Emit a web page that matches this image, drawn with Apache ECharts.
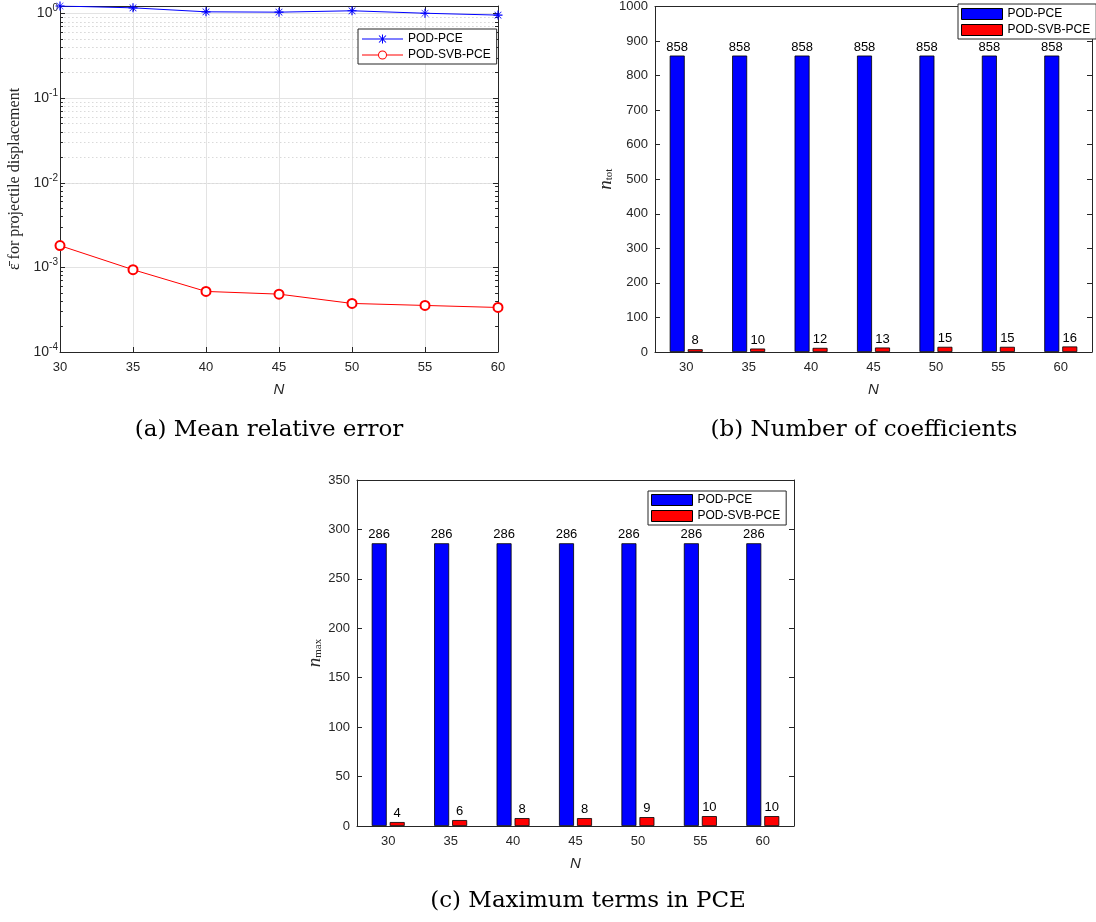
<!DOCTYPE html>
<html><head><meta charset="utf-8">
<script src="https://cdn.jsdelivr.net/npm/echarts@6/dist/echarts.min.js"></script>
<style>html,body{margin:0;padding:0;background:#fff}#c{width:1096px;height:922px}</style>
</head><body><div id="c"></div><script>
// ---------- data ----------
const N = [30, 35, 40, 45, 50, 55, 60];
const categories = ['30', '35', '40', '45', '50', '55', '60'];
const seriesNames = ['POD-PCE', 'POD-SVB-PCE'];
// (a) mean relative error
const errPodPce = [1.23, 1.17, 1.05, 1.04, 1.08, 1.01, 0.96];
const errPodSvbPce = [1.81e-3, 9.4e-4, 5.2e-4, 4.83e-4, 3.75e-4, 3.55e-4, 3.36e-4];
// (b) number of coefficients
const nTotPodPce = [858, 858, 858, 858, 858, 858, 858];
const nTotPodSvbPce = [8, 10, 12, 13, 15, 15, 16];
// (c) maximum terms in PCE
const nMaxPodPce = [286, 286, 286, 286, 286, 286, 286];
const nMaxPodSvbPce = [4, 6, 8, 8, 9, 10, 10];
const captions = ['(a) Mean relative error', '(b) Number of coefficients', '(c) Maximum terms in PCE'];
const yTitleA = 'ε\u0304 for projectile displacement';

// ---------- style ----------
const AX = '#262626';
const SANS = '"Liberation Sans", Arial, Helvetica, sans-serif';
const SERIF = '"Liberation Serif", "DejaVu Serif", serif';
const BLUE = '#0000ff', RED = '#ff0000';
const ASTER = 'path://M0,4.35 L10,4.35 L10,5.65 L0,5.65 Z M4.35,0 L5.65,0 L5.65,10 L4.35,10 Z ' +
  'M1.5,1.0 L9.0,8.5 L8.5,9.0 L1.0,1.5 Z M8.5,1.0 L9.0,1.5 L1.5,9.0 L1.0,8.5 Z';
// legend icons (line + marker), drawn in a 41 x 9 box
const LEG_ASTER = 'path://M0,4 L41,4 L41,5 L0,5 Z M20,0 L21,0 L21,9 L20,9 Z ' +
  'M17.35,0.65 L24.35,7.65 L23.65,8.35 L16.65,1.35 Z M24.35,1.35 L17.35,8.35 L16.65,7.65 L23.65,0.65 Z';
const LEG_CIRC = 'path://M0,4 L16.1,4 L16.1,5 L0,5 Z M24.9,4 L41,4 L41,5 L24.9,5 Z ' +
  'M25,4.5 A4.5,4.5 0 1,0 16,4.5 A4.5,4.5 0 1,0 25,4.5 Z M24.0,4.5 A3.5,3.5 0 1,1 17,4.5 A3.5,3.5 0 1,1 24.0,4.5 Z';

// minor log grid lines (2..9 x 10^k)
const minorLog = [];
for (let k = -4; k <= -1; k++) for (let m = 2; m <= 9; m++) minorLog.push(m * Math.pow(10, k));
const minorLogTop = [];
for (let m = 2; m <= 9; m++) minorLogTop.push(m / 10);

const grids = [
  {left: 60, top: 6, width: 438, height: 346},
  {left: 655, top: 6, width: 437, height: 346},
  {left: 357, top: 480, width: 437, height: 346}
];

const tickLab = {color: AX, fontSize: 13, fontFamily: SANS};
const axLine = {show: true, onZero: false, lineStyle: {color: AX, width: 1}};
const nameN = {color: AX, fontSize: 15, fontFamily: SANS, fontStyle: 'italic'};

function logFmt(v) {
  const e = Math.log10(v), r = Math.round(e);
  if (Math.abs(e - r) > 1e-6) return '';
  return '{b|10}{e|' + r + '}';
}
const plainFmt = v => String(v);

const xAxis = [
  {gridIndex: 0, type: 'value', min: 30, max: 60, interval: 5, position: 'bottom',
   axisLine: axLine, axisTick: {inside: true, length: 5, lineStyle: {color: AX}},
   axisLabel: Object.assign({margin: 9}, tickLab),
   splitLine: {show: true, lineStyle: {color: '#e3e3e3', width: 1}},
   name: 'N', nameLocation: 'middle', nameGap: 30, nameTextStyle: nameN},
  {gridIndex: 0, type: 'value', min: 30, max: 60, interval: 5, position: 'top',
   axisLine: axLine, axisTick: {inside: true, length: 5, lineStyle: {color: AX}},
   axisLabel: {show: false}, splitLine: {show: false}},
  {gridIndex: 1, type: 'category', data: categories, position: 'bottom',
   axisLine: axLine, axisTick: {inside: true, alignWithLabel: true, length: 5, lineStyle: {color: AX}},
   axisLabel: Object.assign({margin: 9}, tickLab),
   name: 'N', nameLocation: 'middle', nameGap: 30, nameTextStyle: nameN},
  {gridIndex: 1, type: 'category', data: categories, position: 'top',
   axisLine: axLine, axisTick: {inside: true, alignWithLabel: true, length: 5, lineStyle: {color: AX}},
   axisLabel: {show: false}},
  {gridIndex: 2, type: 'category', data: categories, position: 'bottom',
   axisLine: axLine, axisTick: {inside: true, alignWithLabel: true, length: 5, lineStyle: {color: AX}},
   axisLabel: Object.assign({margin: 9}, tickLab),
   name: 'N', nameLocation: 'middle', nameGap: 30, nameTextStyle: nameN},
  {gridIndex: 2, type: 'category', data: categories, position: 'top',
   axisLine: axLine, axisTick: {inside: true, alignWithLabel: true, length: 5, lineStyle: {color: AX}},
   axisLabel: {show: false}}
];

const subRich = {
  i: {fontSize: 19, fontFamily: SERIF, fontStyle: 'italic', color: AX},
  s: {fontSize: 11, fontFamily: SERIF, color: AX, padding: [7, 0, 0, 0]}
};

const yAxis = [
  {gridIndex: 0, type: 'log', logBase: 10, min: 1e-4, max: 1.23, position: 'left',
   axisLine: axLine, axisTick: {inside: true, length: 5, lineStyle: {color: AX}},
   axisLabel: {margin: 2, formatter: logFmt, rich: {
     b: {fontSize: 14, color: AX, fontFamily: SANS},
     e: {fontSize: 10, color: AX, fontFamily: SANS, padding: [0, 0, 10, 0]}}},
   splitLine: {show: true, lineStyle: {color: '#e3e3e3', width: 1}},
   name: yTitleA, nameLocation: 'middle', nameGap: 37,
   nameTextStyle: {color: AX, fontSize: 16, fontFamily: SERIF}},
  {gridIndex: 0, type: 'log', logBase: 10, min: 1e-4, max: 1.23, position: 'right',
   axisLine: axLine, axisTick: {inside: true, length: 5, lineStyle: {color: AX}},
   axisLabel: {show: false}, splitLine: {show: false}},
  {gridIndex: 1, type: 'value', min: 0, max: 1000, interval: 100, position: 'left',
   axisLine: axLine, axisTick: {show: true, inside: true, length: 5, lineStyle: {color: AX}},
   axisLabel: Object.assign({margin: 7, formatter: plainFmt}, tickLab), splitLine: {show: false},
   name: '{i|n}{s|tot}', nameLocation: 'middle', nameGap: 40,
   nameTextStyle: {rich: subRich}},
  {gridIndex: 1, type: 'value', min: 0, max: 1000, interval: 100, position: 'right',
   axisLine: axLine, axisTick: {show: true, inside: true, length: 5, lineStyle: {color: AX}},
   axisLabel: {show: false}, splitLine: {show: false}},
  {gridIndex: 2, type: 'value', min: 0, max: 350, interval: 50, position: 'left',
   axisLine: axLine, axisTick: {show: true, inside: true, length: 5, lineStyle: {color: AX}},
   axisLabel: Object.assign({margin: 7, formatter: plainFmt}, tickLab), splitLine: {show: false},
   name: '{i|n}{s|max}', nameLocation: 'middle', nameGap: 33,
   nameTextStyle: {rich: subRich}},
  {gridIndex: 2, type: 'value', min: 0, max: 350, interval: 50, position: 'right',
   axisLine: axLine, axisTick: {show: true, inside: true, length: 5, lineStyle: {color: AX}},
   axisLabel: {show: false}, splitLine: {show: false}}
];

function barSeries(name, data, color, xi, yi) {
  return {
    type: 'bar', name: name, data: data, xAxisIndex: xi, yAxisIndex: yi,
    barWidth: 15, barGap: '20%',
    itemStyle: {color: color, borderColor: '#000', borderWidth: 0.8},
    label: {show: true, position: 'top', distance: 2, color: '#000', fontSize: 13, fontFamily: SANS}
  };
}

// short minor tick marks on the left and right edges of the log axis
const allMinor = minorLog.concat(minorLogTop);
const minorTickLines = [];
allMinor.forEach(v => {
  minorTickLines.push([{coord: [30, v]}, {coord: [30.2, v]}]);
  minorTickLines.push([{coord: [59.8, v]}, {coord: [60, v]}]);
});

const series = [
  {type: 'line', name: seriesNames[0], xAxisIndex: 0, yAxisIndex: 0,
   data: N.map((n, i) => [n, errPodPce[i]]),
   symbol: ASTER, symbolSize: 9, lineStyle: {color: BLUE, width: 1, type: 'solid'},
   itemStyle: {color: BLUE},
   markLine: {silent: true, symbol: 'none', label: {show: false}, z: 1,
     lineStyle: {color: AX, type: 'solid', width: 1},
     data: minorTickLines}},
  {type: 'line', name: seriesNames[1], xAxisIndex: 0, yAxisIndex: 0,
   data: N.map((n, i) => [n, errPodSvbPce[i]]),
   symbol: 'emptyCircle', symbolSize: 9, lineStyle: {color: RED, width: 1, type: 'solid'},
   itemStyle: {color: RED, borderColor: RED, borderWidth: 1},
   markLine: {silent: true, symbol: 'none', label: {show: false}, z: 0,
     lineStyle: {color: '#dadada', type: [1.5, 2.5], width: 1},
     data: allMinor.map(v => ({yAxis: v}))}},
  barSeries(seriesNames[0], nTotPodPce, BLUE, 2, 2),
  barSeries(seriesNames[1], nTotPodSvbPce, RED, 2, 2),
  barSeries(seriesNames[0], nMaxPodPce, BLUE, 4, 4),
  barSeries(seriesNames[1], nMaxPodSvbPce, RED, 4, 4)
];

const legBox = {orient: 'vertical', backgroundColor: '#fff', borderColor: AX, borderWidth: 1,
  itemGap: 4, textStyle: {color: '#000', fontSize: 12, fontFamily: SANS}};
function barLegendData() {
  return [
    {name: seriesNames[0], icon: 'rect', itemStyle: {color: BLUE, borderColor: '#000', borderWidth: 1}},
    {name: seriesNames[1], icon: 'rect', itemStyle: {color: RED, borderColor: '#000', borderWidth: 1}}
  ];
}
const legend = [
  Object.assign({}, legBox, {left: 358, top: 29, padding: [4, 6, 3, 4], itemWidth: 41, itemHeight: 9,
    data: [
      {name: seriesNames[0], icon: LEG_ASTER, itemStyle: {color: BLUE, borderWidth: 0, opacity: 1}},
      {name: seriesNames[1], icon: LEG_CIRC, itemStyle: {color: RED, borderWidth: 0, opacity: 1}}
    ]}),
  Object.assign({}, legBox, {left: 958, top: 4, padding: [4, 6, 3, 3], itemWidth: 41, itemHeight: 11,
    data: barLegendData()}),
  Object.assign({}, legBox, {left: 648, top: 491, padding: [3, 6, 3, 3], itemWidth: 41, itemHeight: 11,
    data: barLegendData()})
];

const capPos = [[269, 430], [864, 430], [588, 901]];
const graphic = captions.map((t, i) => ({
  type: 'text', x: capPos[i][0], y: capPos[i][1], silent: true,
  style: {text: t, fill: '#000', font: '23px "DejaVu Serif", serif',
    textAlign: 'center', textVerticalAlign: 'middle'}
}));

const chart = echarts.init(document.getElementById('c'), null, {renderer: 'canvas'});
chart.setOption({
  animation: false,
  backgroundColor: '#fff',
  grid: grids, xAxis: xAxis, yAxis: yAxis, series: series, legend: legend, graphic: graphic
});
</script></body></html>
